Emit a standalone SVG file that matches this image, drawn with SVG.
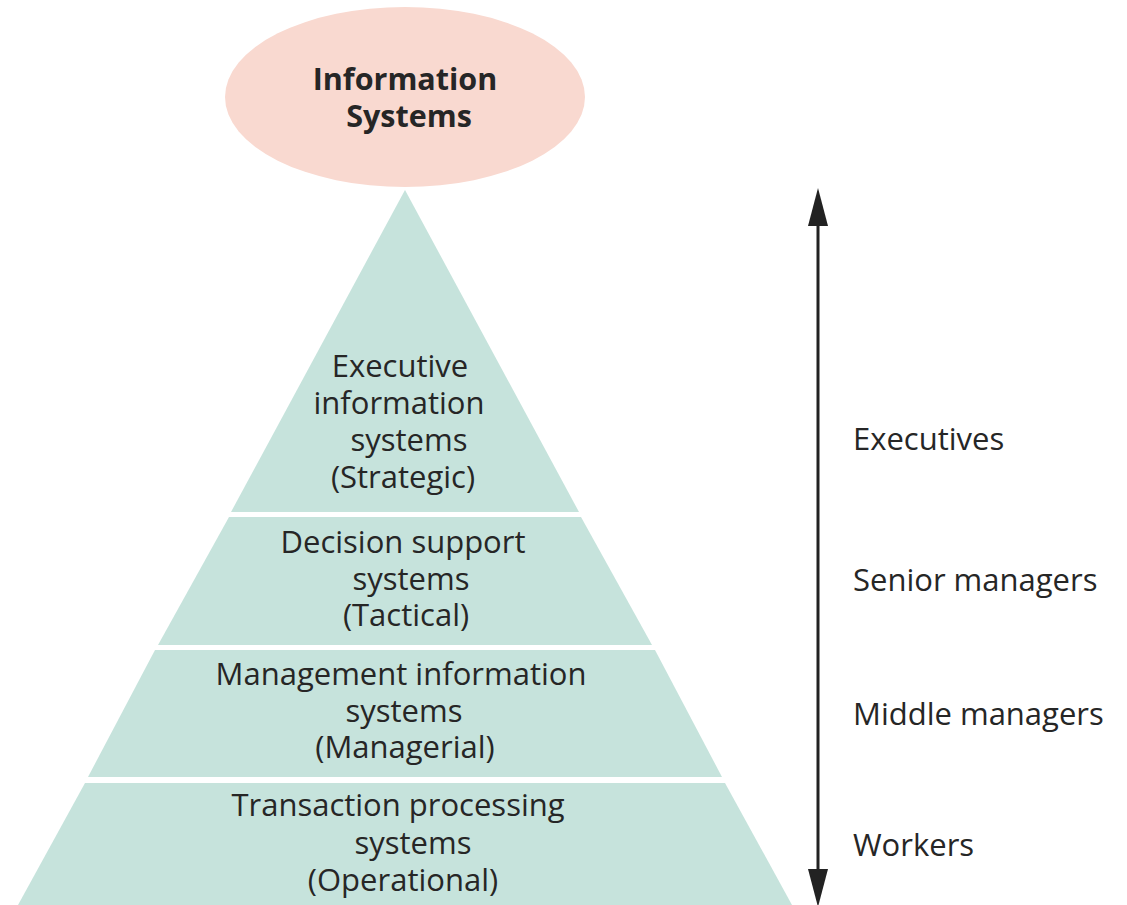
<svg xmlns="http://www.w3.org/2000/svg" width="1127" height="905" viewBox="0 0 1127 905">
<defs>
<style>
.t{font-family:"Open Sans","Noto Sans","Liberation Sans",sans-serif;font-size:31px;fill:#262626;text-anchor:middle}
.r{font-family:"Open Sans","Noto Sans","Liberation Sans",sans-serif;font-size:31px;fill:#262626}
.b{font-family:"Open Sans","Noto Sans","Liberation Sans",sans-serif;font-size:30.5px;font-weight:bold;fill:#262626;text-anchor:middle}
.band{fill:#c6e3dc}
</style>
</defs>
<rect width="1127" height="905" fill="#fff"/>
<g id="title">
<ellipse cx="405" cy="97" rx="180" ry="90" fill="#f9d9d0"/>
<text class="b" x="405" y="90">Information</text>
<text class="b" x="409" y="127">Systems</text>
</g>
<g id="strategic">
<polygon class="band" points="405,190 579,512 231,512"/>
<text class="t" x="400" y="377">Executive</text>
<text class="t" x="399" y="414">information</text>
<text class="t" x="409" y="451">systems</text>
<text class="t" x="403" y="488">(Strategic)</text>
</g>
<g id="tactical">
<polygon class="band" points="581,517 652,645 158,645 229,517"/>
<text class="t" x="403" y="553">Decision support</text>
<text class="t" x="411" y="590">systems</text>
<text class="t" x="406" y="626">(Tactical)</text>
</g>
<g id="managerial">
<polygon class="band" points="655,650 722,777 88,777 155,650"/>
<text class="t" x="401" y="685">Management information</text>
<text class="t" x="404" y="722">systems</text>
<text class="t" x="405" y="758">(Managerial)</text>
</g>
<g id="operational">
<polygon class="band" points="725,783 792,905 18,905 85,783"/>
<text class="t" x="398" y="816">Transaction processing</text>
<text class="t" x="413" y="854">systems</text>
<text class="t" x="403" y="891">(Operational)</text>
</g>
<g id="connectors">
<line x1="818" y1="225" x2="818" y2="870" stroke="#222" stroke-width="3"/>
<polygon points="818,188 828,226 808,226" fill="#222"/>
<polygon points="818,907 828,869 808,869" fill="#222"/>
</g>
<g id="labels">
<text class="r" x="853" y="450">Executives</text>
<text class="r" x="853" y="591">Senior managers</text>
<text class="r" x="853" y="725">Middle managers</text>
<text class="r" x="853" y="856">Workers</text>
</g>
</svg>
